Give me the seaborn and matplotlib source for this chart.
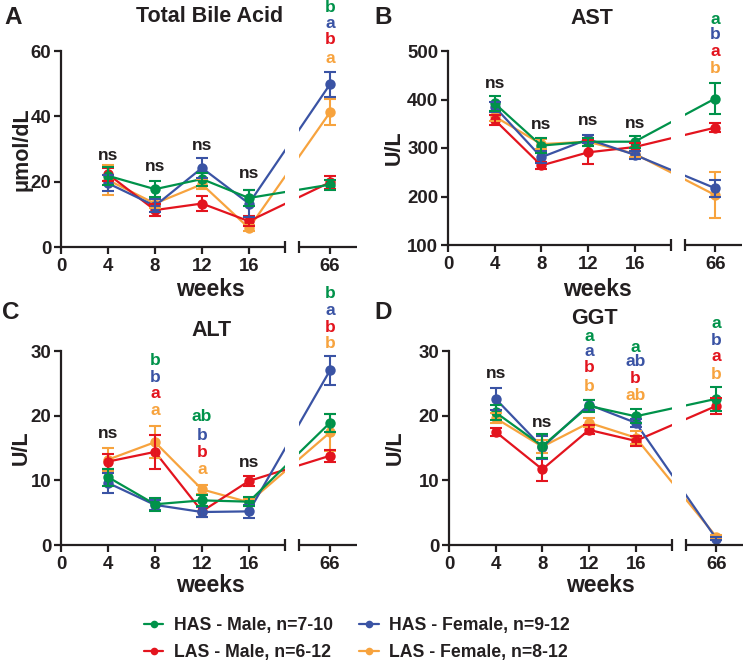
import numpy as np
import pandas as pd
import matplotlib
matplotlib.use("Agg")
import matplotlib.pyplot as plt
from matplotlib.lines import Line2D
import seaborn as sns

sns.set_theme(style="white")
plt.rcParams["font.family"] = ["Liberation Sans", "DejaVu Sans"]
plt.rcParams["font.weight"] = "bold"

# ---------------- data ----------------
weeks = [4, 8, 12, 16, 66]
groups = ["HAS - Male, n=7-10", "HAS - Female, n=9-12",
          "LAS - Male, n=6-12", "LAS - Female, n=8-12"]
colors = ["#00924A", "#3A53A4", "#E3141E", "#F7A33E"]

# Total Bile Acid (umol/dL)
tba_has_m = [21.8, 17.7, 20.8, 15.0, 19.1]
tba_has_f = [19.5, 12.6, 24.2, 13.3, 49.8]
tba_las_m = [22.3, 11.3, 13.3, 7.9, 19.8]
tba_las_f = [20.5, 13.3, 19.2, 5.8, 41.2]
tba_err_has_m = [2.8, 2.5, 2.0, 2.5, 1.5]
tba_err_has_f = [2.5, 2.0, 3.0, 4.0, 3.8]
tba_err_las_m = [2.0, 1.8, 2.3, 1.5, 2.0]
tba_err_las_f = [4.5, 1.5, 1.5, 1.0, 4.0]

# AST (U/L)
ast_has_m = [392, 305, 313, 313, 402]
ast_has_f = [385, 281, 318, 286, 217]
ast_las_m = [358, 264, 291, 302, 342]
ast_las_f = [365, 308, 313, 288, 203]
ast_err_has_m = [15, 15, 8, 12, 32]
ast_err_has_f = [10, 12, 8, 8, 18]
ast_err_las_m = [10, 8, 25, 8, 10]
ast_err_las_f = [10, 10, 8, 6, 47]

# ALT (U/L)
alt_has_m = [10.5, 6.3, 6.9, 6.7, 18.9]
alt_has_f = [9.6, 6.2, 5.1, 5.2, 27.0]
alt_las_m = [12.9, 14.4, 5.2, 9.9, 13.8]
alt_las_f = [13.2, 15.9, 8.6, 6.6, 17.4]
alt_err_has_m = [1.3, 1.0, 0.8, 0.7, 1.4]
alt_err_has_f = [1.5, 0.8, 0.8, 1.0, 2.2]
alt_err_las_m = [1.2, 2.6, 0.8, 0.7, 0.9]
alt_err_las_f = [1.8, 2.5, 0.7, 0.5, 2.9]

# GGT (U/L)
ggt_has_m = [20.5, 15.3, 21.5, 19.9, 22.6]
ggt_has_f = [22.6, 15.1, 21.7, 18.9, 1.0]
ggt_las_m = [17.5, 11.7, 17.8, 16.1, 21.5]
ggt_las_f = [19.6, 15.2, 18.9, 16.6, 1.3]
ggt_err_has_m = [1.2, 1.8, 0.9, 1.1, 1.9]
ggt_err_has_f = [1.7, 1.8, 0.8, 0.6, 0.2]
ggt_err_las_m = [0.6, 1.8, 0.7, 0.8, 1.2]
ggt_err_las_f = [0.8, 1.0, 0.7, 1.0, 0.3]

# significance labels: (week, y, text, group index or None for black)
tba_sig = [(4, 28.1, "ns", None), (8, 24.5, "ns", None), (12, 31.0, "ns", None),
           (16, 22.5, "ns", None),
           (66, 73.4, "b", 0), (66, 68.3, "a", 1), (66, 63.6, "b", 2), (66, 57.8, "a", 3)]
ast_sig = [(4, 433, "ns", None), (8, 349, "ns", None), (12, 356, "ns", None),
           (16, 351, "ns", None),
           (66, 565, "a", 0), (66, 534, "b", 1), (66, 500, "a", 2), (66, 464, "b", 3)]
alt_sig = [(4, 17.2, "ns", None),
           (8, 28.6, "b", 0), (8, 25.9, "b", 1), (8, 23.5, "a", 2), (8, 20.8, "a", 3),
           (12, 19.8, "ab", 0), (12, 17.0, "b", 1), (12, 14.3, "b", 2), (12, 11.7, "a", 3),
           (16, 12.7, "ns", None),
           (66, 38.9, "b", 0), (66, 36.2, "a", 1), (66, 33.7, "b", 2), (66, 31.1, "b", 3)]
ggt_sig = [(4, 26.5, "ns", None), (8, 19.0, "ns", None),
           (12, 32.3, "a", 0), (12, 29.9, "a", 1), (12, 27.4, "b", 2), (12, 24.5, "b", 3),
           (16, 30.6, "a", 0), (16, 28.3, "ab", 1), (16, 25.7, "b", 2), (16, 23.1, "ab", 3),
           (66, 34.2, "a", 0), (66, 31.7, "b", 1), (66, 29.1, "a", 2), (66, 26.3, "b", 3)]

# ---------------- layout ----------------
W, H = 744, 665
TXT = "#231F20"
BRK_L, BRK_R, X66, XMAX = 19.1, 20.3, 22.9, 25.2


def xpos(w):
    return X66 if w == 66 else w


fig = plt.figure(figsize=(W / 100, H / 100), dpi=100)


def px_axes(l, r, t, b):
    return fig.add_axes([l / W, 1 - b / H, (r - l) / W, (b - t) / H])


def draw_panel(ax, means, errs, ylim, yticks, ylabel, ylabel_x, sig):
    rows = []
    for g, m in zip(groups, means):
        for w, v in zip(weeks, m):
            rows.append({"x": xpos(w), "value": v, "group": g})
    df = pd.DataFrame(rows)
    order = [3, 2, 1, 0]  # draw orange, red, blue, green (green on top)
    sns.lineplot(data=df, x="x", y="value", hue="group",
                 hue_order=[groups[i] for i in order],
                 palette=[colors[i] for i in order],
                 marker="o", markersize=7.5, markeredgewidth=0,
                 linewidth=1.6, errorbar=None, legend=False, ax=ax)
    for i in order:
        ax.errorbar([xpos(w) for w in weeks], means[i], yerr=errs[i], fmt="none",
                    ecolor=colors[i], elinewidth=1.5, capsize=4.5, capthick=1.5,
                    zorder=2)
    ax.set_xlim(0, XMAX)
    ax.set_ylim(*ylim)
    ax.set_yticks(yticks)
    ax.set_xticks([0, 4, 8, 12, 16, X66])
    ax.set_xticklabels(["0", "4", "8", "12", "16", "66"])
    ax.set_xlabel("")
    ax.set_ylabel("")
    for s in ["top", "right", "bottom"]:
        ax.spines[s].set_visible(False)
    ax.spines["left"].set_linewidth(1.6)
    ax.spines["left"].set_color(TXT)
    ax.tick_params(axis="both", direction="out", length=5, width=1.6, color=TXT,
                   labelsize=13.4, labelcolor=TXT, pad=2, left=True, bottom=True)
    ax.tick_params(axis="x", pad=3)
    for lab in ax.get_xticklabels() + ax.get_yticklabels():
        lab.set_fontweight("bold")
    # white gap for the broken axis
    ax.axvspan(BRK_L, BRK_R, color="white", zorder=3, lw=0)
    y0 = ylim[0]
    ax.plot([0, BRK_L], [y0, y0], color=TXT, lw=1.6, clip_on=False, zorder=4,
            solid_capstyle="butt")
    ax.plot([BRK_R, XMAX], [y0, y0], color=TXT, lw=1.6, clip_on=False, zorder=4,
            solid_capstyle="butt")
    ax.plot([BRK_L, BRK_R], [y0, y0], ls="none", marker="|", markersize=9,
            markeredgewidth=1.6, color=TXT, clip_on=False, zorder=4)
    ax.text(ylabel_x, 0.5, ylabel, transform=ax.transAxes,
            rotation=90, ha="center", va="center", fontsize=15.5,
            fontweight="bold", color=TXT)
    for w, y, t, gi in sig:
        ax.text(xpos(w), y, t, ha="center", va="center", fontsize=12.5,
                fontweight="bold", color=TXT if gi is None else colors[gi],
                clip_on=False, zorder=5)


axA = px_axes(61, 357, 51, 247)
axB = px_axes(448, 742, 51, 245)
axC = px_axes(61, 357, 351, 545)
axD = px_axes(449, 743, 351, 545)

draw_panel(axA, [tba_has_m, tba_has_f, tba_las_m, tba_las_f],
           [tba_err_has_m, tba_err_has_f, tba_err_las_m, tba_err_las_f],
           (0, 60), [0, 20, 40, 60], "\u03bcmol/dL", -0.133, tba_sig)
draw_panel(axB, [ast_has_m, ast_has_f, ast_las_m, ast_las_f],
           [ast_err_has_m, ast_err_has_f, ast_err_las_m, ast_err_las_f],
           (100, 500), [100, 200, 300, 400, 500], "U/L", -0.184, ast_sig)
draw_panel(axC, [alt_has_m, alt_has_f, alt_las_m, alt_las_f],
           [alt_err_has_m, alt_err_has_f, alt_err_las_m, alt_err_las_f],
           (0, 30), [0, 10, 20, 30], "U/L", -0.135, alt_sig)
draw_panel(axD, [ggt_has_m, ggt_has_f, ggt_las_m, ggt_las_f],
           [ggt_err_has_m, ggt_err_has_f, ggt_err_las_m, ggt_err_las_f],
           (0, 30), [0, 10, 20, 30], "U/L", -0.184, ggt_sig)


def ftext(x, y, s, size, **kw):
    fig.text(x / W, 1 - y / H, s, fontsize=size, fontweight="bold", color=TXT,
             ha=kw.pop("ha", "center"), va=kw.pop("va", "center"), **kw)


# panel letters
ftext(4, 17, "A", 17.5, ha="left")
ftext(374, 17, "B", 17.5, ha="left")
ftext(2, 313, "C", 17.5, ha="left")
ftext(374, 313, "D", 17.5, ha="left")
# titles
ftext(210, 17, "Total Bile Acid", 15.5)
ftext(592, 18, "AST", 15.5)
ftext(212, 330, "ALT", 15.5)
ftext(594, 318, "GGT", 15.5)
# x labels
ftext(210, 290, "weeks", 16.5)
ftext(597, 290, "weeks", 16.5)
ftext(210, 586, "weeks", 16.5)
ftext(600, 586, "weeks", 16.5)

# legend
handles = [Line2D([], [], color=c, marker="o", markersize=5.5, lw=1.6,
                  markeredgewidth=0) for c in colors]
leg_order = [0, 2, 1, 3]
leg = fig.legend([handles[i] for i in leg_order], [groups[i] for i in leg_order],
                 ncol=2, loc="center", bbox_to_anchor=(357 / W, 1 - 639 / H),
                 frameon=False, prop={"size": 12.7, "weight": "bold"},
                 handlelength=1.1, handletextpad=0.6, columnspacing=1.5,
                 labelspacing=0.55, borderpad=0)
for t in leg.get_texts():
    t.set_color(TXT)

fig.savefig("out.png", dpi=100, facecolor="white")
